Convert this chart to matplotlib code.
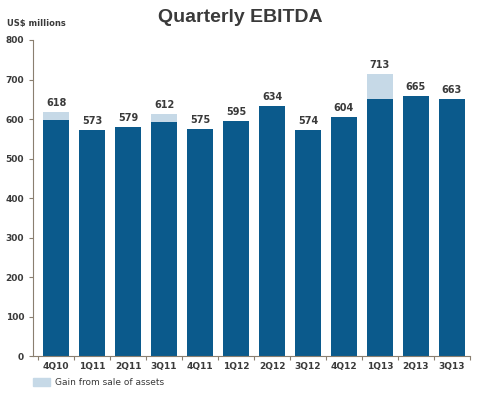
import matplotlib.pyplot as plt
import matplotlib.patches as mpatches

# === DADOS ===
quarters = ["4Q10", "1Q11", "2Q11", "3Q11", "4Q11", "1Q12", "2Q12", "3Q12", "4Q12", "1Q13", "2Q13", "3Q13"]
ebitda_base = [598, 573, 579, 592, 575, 595, 634, 573, 606, 650, 659, 650]
gain_sale = [20, 0, 0, 20, 0, 0, 0, 0, 0, 63, 0, 0]
labels_total = [618, 573, 579, 612, 575, 595, 634, 574, 604, 713, 665, 663]

dark_blue = "#0b5a8c"
light_blue = "#c6d9e7"
text_col = "#3a3a3a"

fig = plt.figure(figsize=(4.8, 3.98), dpi=100)
ax = fig.add_axes([0.069, 0.1055, 0.91, 0.794])

x = range(len(quarters))
ax.bar(x, ebitda_base, width=0.71, color=dark_blue)
ax.bar(x, gain_sale, width=0.71, bottom=ebitda_base, color=light_blue)

for i, v in enumerate(labels_total):
    top = ebitda_base[i] + gain_sale[i]
    ax.text(i, top + 10, str(v), ha="center", va="bottom", fontsize=7,
            fontweight="bold", color=text_col)

ax.set_xlim(-0.64, len(quarters) - 0.5)
ax.set_ylim(0, 800)
ax.set_yticks(range(0, 801, 100))
ax.tick_params(axis="y", labelsize=6.5, colors=text_col, length=3, width=0.8)
ax.set_yticklabels([str(t) for t in range(0, 801, 100)], fontweight="bold")

ax.set_xticks(list(x))
ax.set_xticklabels(quarters, fontsize=6.5, fontweight="bold", color=text_col)
ax.tick_params(axis="x", length=0, pad=4)
ax.set_xticks([i + 0.5 for i in range(-1, len(quarters))], minor=True)
ax.tick_params(axis="x", which="minor", length=3, width=0.8, color="#8a7f70")

for s in ["top", "right"]:
    ax.spines[s].set_visible(False)
ax.spines["left"].set_color("#8a7f70")
ax.spines["bottom"].set_color("#8a7f70")
ax.tick_params(axis="y", color="#8a7f70")

fig.text(0.5, 0.955, "Quarterly EBITDA", ha="center", va="center", fontsize=14,
         fontweight="bold", color=text_col, family="Liberation Sans")
fig.text(0.015, 0.94, "US$ millions", ha="left", va="center", fontsize=6,
         fontweight="bold", color=text_col)

patch = mpatches.Patch(color=light_blue, label="Gain from sale of assets")
fig.legend(handles=[patch], loc="lower left", bbox_to_anchor=(0.052, 0.008), frameon=False,
           fontsize=6.5, handlelength=1.9, handleheight=1.0, handletextpad=0.5,
           labelcolor=text_col)

plt.savefig("out.png", dpi=100)
